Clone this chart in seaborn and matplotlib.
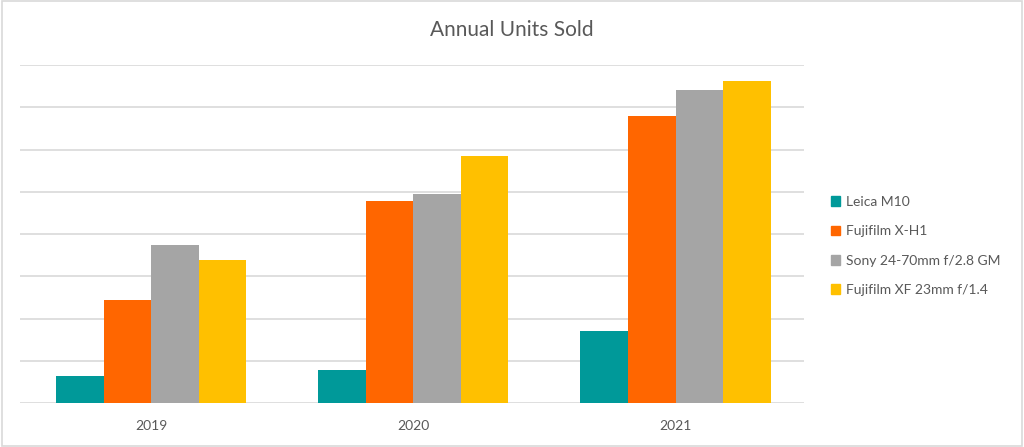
import matplotlib
matplotlib.use('Agg')
import matplotlib.pyplot as plt
import seaborn as sns
import pandas as pd

# data (no axis labels, so units are gridline steps)
years = ['2019', '2020', '2021']
products = ['Leica M10', 'Fujifilm X-H1', 'Sony 24-70mm f/2.8 GM', 'Fujifilm XF 23mm f/1.4']
leica_m10 = [0.65, 0.78, 1.72]
fuji_xh1 = [2.44, 4.79, 6.80]
sony_gm = [3.75, 4.94, 7.40]
fuji_xf23 = [3.40, 5.85, 7.61]
colors = ['#009999', '#FF6600', '#A5A5A5', '#FFC000']

rows = []
for name, vals in zip(products, [leica_m10, fuji_xh1, sony_gm, fuji_xf23]):
    for y, v in zip(years, vals):
        rows.append({'year': y, 'product': name, 'units': v})
df = pd.DataFrame(rows)

sns.set_theme(style='white')
plt.rcParams['font.family'] = ['Lato', 'DejaVu Sans']

fig = plt.figure(figsize=(10.24, 4.47), dpi=100)
ax = fig.add_axes([20 / 1024, (447 - 403.3) / 447, 784 / 1024, 338.3 / 447])

sns.barplot(data=df, x='year', y='units', hue='product', palette=colors,
            saturation=1, width=0.725, gap=0, ax=ax, legend=False,
            linewidth=0, edgecolor='none')

ax.set_ylim(0, 8)
ax.set_xlim(-0.5, 2.49)
ax.set_yticks(range(0, 9))
ax.yaxis.grid(True, color='#D9D9D9', linewidth=1.2)
ax.set_axisbelow(True)
ax.set_yticklabels([])
ax.tick_params(axis='y', length=0)
ax.tick_params(axis='x', length=0, pad=12, labelsize=10, labelcolor='#595959')
for s in ax.spines.values():
    s.set_visible(False)
ax.set_xlabel('')
ax.set_ylabel('')

fig.text(0.5, 1 - 30 / 447, 'Annual Units Sold', ha='center', va='center',
         fontsize=15, color='#595959')

handles = [plt.Rectangle((0, 0), 1, 1, color=c) for c in colors]
fig.legend(handles, products, loc='center left', bbox_to_anchor=(818 / 1024, 1 - 246 / 447),
           frameon=False, fontsize=10, labelcolor='#595959', handlelength=0.7,
           handleheight=0.7, handletextpad=0.4, labelspacing=1.25)

fig.patches.append(plt.Rectangle((0.002, 0.003), 0.996, 0.994, transform=fig.transFigure,
                                 fill=False, edgecolor='#D9D9D9', linewidth=1.2))

fig.savefig('out.png', dpi=100)
